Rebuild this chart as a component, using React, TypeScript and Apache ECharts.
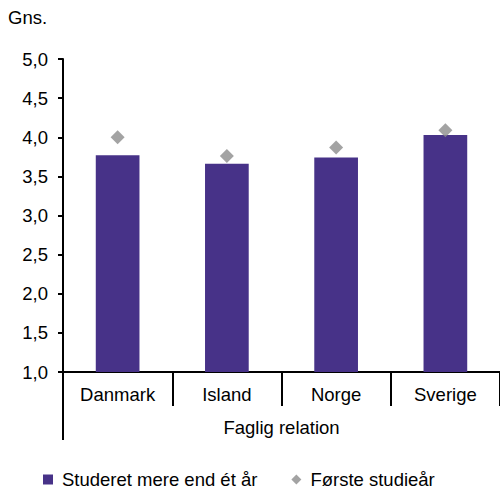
import React, { useEffect, useRef } from "react";
import * as echarts from "echarts";

const categories = ["Danmark", "Island", "Norge", "Sverige"];
const studeretValues = [3.77, 3.66, 3.74, 4.03];
const foersteValues = [4.0, 3.76, 3.87, 4.09];
const seriesNames = ["Studeret mere end ét år", "Første studieår"];
const axisTitle = "Faglig relation";
const yTitle = "Gns.";

const FONT = "Liberation Sans, Arial, sans-serif";
const FS = 18.5;

export default function App() {
  const ref = useRef<HTMLDivElement>(null);
  useEffect(() => {
    document.body.style.margin = "0";
    if (!ref.current) return;
    const chart = echarts.init(ref.current, null, { renderer: "svg" });
    chart.setOption({
      animation: false,
      textStyle: { fontFamily: FONT },
      grid: { left: 63, right: -3, top: 59, bottom: 118, containLabel: false },
      legend: {
        top: 470,
        left: 43,
        padding: 0,
        itemWidth: 10,
        itemHeight: 10,
        itemGap: 34,
        textStyle: { fontFamily: FONT, fontSize: FS, color: "#000", padding: [0, 0, 0, 4] },
        data: [
          { name: seriesNames[0], icon: "rect" },
          { name: seriesNames[1], icon: "diamond" },
        ],
      },
      graphic: [
        {
          type: "text",
          left: 8,
          top: 8,
          style: { text: yTitle, font: `${FS}px ${FONT}`, fill: "#000" },
        },
        {
          type: "line",
          shape: { x1: 63, y1: 372, x2: 63, y2: 440 },
          style: { stroke: "#000", lineWidth: 2 },
        },
      ],
      xAxis: {
        type: "category",
        data: categories,
        axisLine: { lineStyle: { color: "#000", width: 2 } },
        axisTick: { show: true, interval: 0, length: 34, lineStyle: { color: "#000", width: 2 } },
        axisLabel: { color: "#000", fontSize: FS, margin: 13, fontFamily: FONT },
        name: axisTitle,
        nameLocation: "middle",
        nameGap: 46,
        nameTextStyle: { color: "#000", fontSize: FS, fontFamily: FONT },
      },
      yAxis: {
        type: "value",
        min: 1,
        max: 5,
        interval: 0.5,
        axisLine: { show: true, lineStyle: { color: "#000", width: 2 } },
        axisTick: { show: true, length: 5, lineStyle: { color: "#000", width: 2 } },
        splitLine: { show: false },
        axisLabel: {
          color: "#000",
          fontSize: FS,
          margin: 15,
          fontFamily: FONT,
          formatter: (v: number) => v.toFixed(1).replace(".", ","),
        },
      },
      series: [
        {
          name: seriesNames[0],
          type: "bar",
          data: studeretValues,
          barWidth: "40%",
          itemStyle: { color: "#473288" },
          z: 2,
        },
        {
          name: seriesNames[1],
          type: "scatter",
          data: foersteValues,
          symbol: "diamond",
          symbolSize: 14,
          itemStyle: { color: "#8c8c8c" },
          z: 3,
        },
      ],
    });
    return () => chart.dispose();
  }, []);
  return <div ref={ref} style={{ width: 500, height: 490 }} />;
}
